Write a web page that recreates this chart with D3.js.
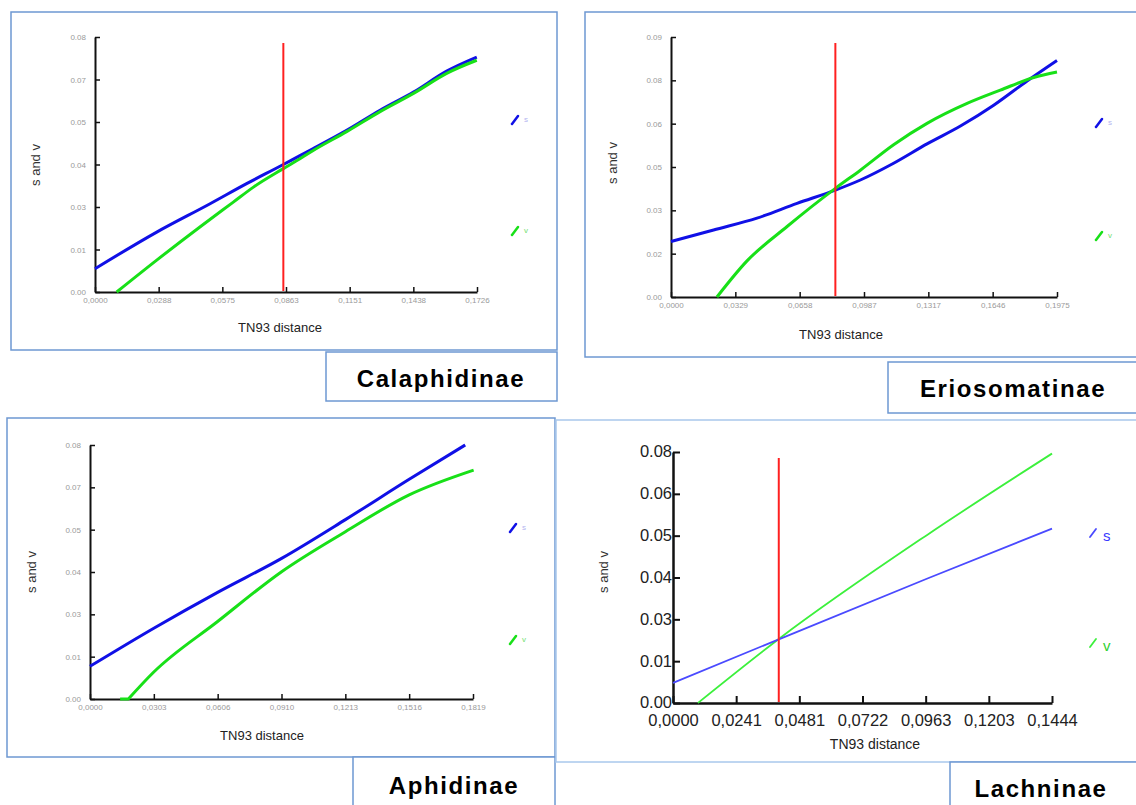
<!DOCTYPE html>
<html><head><meta charset="utf-8">
<script src="https://cdn.jsdelivr.net/npm/d3@7"></script>
<style>html,body{margin:0;padding:0;background:#fff;}svg{display:block;}</style>
</head><body>
<svg id="c" width="1136" height="805"></svg>
<script>
// ---------- DATA ----------
const panelNames = ["Calaphidinae", "Eriosomatinae", "Aphidinae", "Lachninae"];

const calaphidinaeXTicks = ["0,0000","0,0288","0,0575","0,0863","0,1151","0,1438","0,1726"];
const calaphidinaeYTicks = ["0.00","0.01","0.03","0.04","0.05","0.07","0.08"];
const calaphidinaeS = [[0,0.0073],[0.0279,0.0188],[0.052,0.0277],[0.0685,0.0340],[0.0851,0.0400],[0.0926,0.0428],[0.0986,0.0450],[0.1137,0.0507],[0.1288,0.0570],[0.1439,0.0627],[0.1589,0.0693],[0.1725,0.0737]];
const calaphidinaeV = [[0.0098,0],[0.0279,0.0100],[0.0474,0.0204],[0.0625,0.0282],[0.0716,0.0329],[0.0851,0.0387],[0.0926,0.0418],[0.0986,0.0444],[0.1137,0.0503],[0.1288,0.0566],[0.1439,0.0623],[0.1589,0.0686],[0.1725,0.0727]];
const calaphidinaeRed = 0.0851;

const eriosomatinaeXTicks = ["0,0000","0,0329","0,0658","0,0987","0,1317","0,1646","0,1975"];
const eriosomatinaeYTicks = ["0.00","0.02","0.03","0.05","0.06","0.08","0.09"];
const eriosomatinaeS = [[0,0.0192],[0.0218,0.0232],[0.0440,0.0273],[0.0645,0.0324],[0.0841,0.0370],[0.0969,0.0405],[0.1139,0.0463],[0.1310,0.0530],[0.1481,0.0592],[0.1651,0.0664],[0.1822,0.0748],[0.1975,0.0819]];
const eriosomatinaeV = [[0.0235,0],[0.0389,0.0125],[0.0594,0.0244],[0.0841,0.0376],[0.0969,0.0439],[0.1139,0.0527],[0.1310,0.0601],[0.1515,0.0670],[0.1685,0.0716],[0.1856,0.0760],[0.1975,0.0779]];
const eriosomatinaeRed = 0.0841;

const aphidinaeXTicks = ["0,0000","0,0303","0,0606","0,0910","0,1213","0,1516","0,1819"];
const aphidinaeYTicks = ["0.00","0.01","0.03","0.04","0.05","0.07","0.08"];
const aphidinaeS = [[0,0.0103],[0.0303,0.0223],[0.0606,0.0336],[0.0910,0.0443],[0.1213,0.0565],[0.1516,0.0692],[0.1782,0.0800]];
const aphidinaeV = [[0.0143,0],[0.0182,0],[0.0303,0.0085],[0.0606,0.0244],[0.0910,0.0401],[0.1213,0.0527],[0.1516,0.0643],[0.1822,0.0721]];

const lachninaeXTicks = ["0,0000","0,0241","0,0481","0,0722","0,0963","0,1203","0,1444"];
const lachninaeYTicks = ["0.00","0.01","0.03","0.04","0.05","0.06","0.08"];
const lachninaeS = [[0,0.0064],[0.0403,0.0203],[0.0967,0.0396],[0.1444,0.0556]];
const lachninaeV = [[0.0095,0],[0.0403,0.0204],[0.0967,0.0535],[0.1444,0.0795]];
const lachninaeRed = 0.0403;

const seriesNames = ["s","v"];

// ---------- LAYOUT ----------
const panels = [
  {name:panelNames[0], box:[11,12,557,350], lab:[326,352,557,401], title:[441,387],
   px:[95,477], py:[292,37], xMax:0.1726, yMax:0.08, xT:calaphidinaeXTicks, yT:calaphidinaeYTicks,
   s:calaphidinaeS, v:calaphidinaeV, red:calaphidinaeRed, redTop:43,
   xl:[280,332], yl:[40,165], leg:[515,120,231], big:false},
  {name:panelNames[1], box:[585,12,1140,357], lab:[888,362,1140,413], title:[1013,397],
   px:[671,1057], py:[297,37], xMax:0.1975, yMax:0.09, xT:eriosomatinaeXTicks, yT:eriosomatinaeYTicks,
   s:eriosomatinaeS, v:eriosomatinaeV, red:eriosomatinaeRed, redTop:43,
   xl:[841,339], yl:[617,163], leg:[1099,123,236], big:false},
  {name:panelNames[2], box:[7,418,555,757], lab:[353,757,555,808], title:[454,794],
   px:[90,473], py:[699,445], xMax:0.1819, yMax:0.08, xT:aphidinaeXTicks, yT:aphidinaeYTicks,
   s:aphidinaeS, v:aphidinaeV, red:null,
   xl:[262,740], yl:[36,572], leg:[513,528,640], big:false},
  {name:panelNames[3], box:[556,420,1140,762], lab:[950,762,1140,808], title:[1041,797],
   px:[673,1052], py:[703,452], xMax:0.1444, yMax:0.08, xT:lachninaeXTicks, yT:lachninaeYTicks,
   s:lachninaeS, v:lachninaeV, red:lachninaeRed, redTop:458,
   xl:[875,749], yl:[608,572], leg:[1093,533,643], big:true}
];

const svg = d3.select("#c");
const FONT = "'Liberation Sans', Arial, sans-serif";
const borderCol = "#6e98d2";

panels.forEach(p => {
  const g = svg.append("g");
  g.append("rect").attr("x",p.box[0]).attr("y",p.box[1])
    .attr("width",p.box[2]-p.box[0]).attr("height",p.box[3]-p.box[1])
    .attr("fill","none").attr("stroke",p.big? "#a9c8ec" : borderCol).attr("stroke-width",1.5);
  g.append("rect").attr("x",p.lab[0]).attr("y",p.lab[1])
    .attr("width",p.lab[2]-p.lab[0]).attr("height",p.lab[3]-p.lab[1])
    .attr("fill","#fff").attr("stroke",borderCol).attr("stroke-width",1.5);
  g.append("text").attr("x",p.title[0]).attr("y",p.title[1])
    .attr("text-anchor","middle").attr("font-family",FONT).attr("font-weight","bold")
    .attr("font-size",24).attr("letter-spacing","1.6px").attr("fill","#000").text(p.name);

  const x = d3.scaleLinear().domain([0,p.xMax]).range(p.px);
  const y = d3.scaleLinear().domain([0,p.yMax]).range(p.py);
  const xv = d3.range(7).map(i => p.xMax*i/6);
  const yv = d3.range(7).map(i => p.yMax*i/6);

  const tickFont = p.big ? 16.5 : 8;
  const tickCol = p.big ? "#222" : "#9a9a9a";

  const xa = g.append("g").attr("transform",`translate(0,${p.py[0]})`)
    .call(d3.axisBottom(x).tickValues(xv).tickFormat((d,i)=>p.xT[i])
      .tickSizeInner(p.big?-7:-5).tickSizeOuter(0).tickPadding(p.big?11:5));
  const ya = g.append("g").attr("transform",`translate(${p.px[0]},0)`)
    .call(d3.axisLeft(y).tickValues(yv).tickFormat((d,i)=>p.yT[i])
      .tickSizeInner(p.big?-7:-5).tickSizeOuter(0).tickPadding(p.big?1:9));
  [xa,ya].forEach(a => {
    a.select(".domain").attr("stroke","#111").attr("stroke-width",p.big?2.5:2);
    a.selectAll(".tick line").attr("stroke","#111").attr("stroke-width",p.big?2:1.5);
    a.selectAll(".tick text").attr("font-family",FONT).attr("font-size",tickFont).attr("fill",tickCol);
  });
  if (p.big) ya.selectAll(".tick text").attr("dy","0.3em");

  g.append("text").attr("x",p.xl[0]).attr("y",p.xl[1]).attr("text-anchor","middle")
    .attr("font-family",FONT).attr("font-size",p.big?14:13).attr("fill","#222").text("TN93 distance");
  g.append("text").attr("transform",`translate(${p.yl[0]},${p.yl[1]}) rotate(-90)`)
    .attr("text-anchor","middle").attr("font-family",FONT).attr("font-size",13).attr("fill","#333").text("s and v");

  const smooth = d3.line().curve(d3.curveMonotoneX).x(d=>x(d[0])).y(d=>y(d[1]));
  const straight = d3.line().x(d=>x(d[0])).y(d=>y(d[1]));
  const sCol = p.big ? "#4a4aff" : "#1010e6";
  const vCol = p.big ? "#3cf03c" : "#18e018";
  const lw = p.big ? 1.8 : 3;
  const order = p.big ? [[p.v,vCol],[p.s,sCol]] : [[p.s,sCol],[p.v,vCol]];
  order.forEach(([data,col]) => {
    const flatStart = data.length > 2 && data[0][1] === data[1][1];
    const path = flatStart
      ? straight(data.slice(0,2)) + smooth(data.slice(1)).replace(/^M/, "L")
      : smooth(data);
    g.append("path").attr("d",path).attr("fill","none")
      .attr("stroke",col).attr("stroke-width",lw).attr("stroke-linejoin","round");
  });
  if (p.red !== null) {
    g.append("line").attr("x1",x(p.red)).attr("x2",x(p.red)).attr("y1",p.redTop).attr("y2",p.py[0]-1)
      .attr("stroke","#ff2020").attr("stroke-width",2);
  }
  const legCols = [sCol, vCol];
  const legTxt = p.big ? ["#3a3aff","#30d030"] : ["#b4b4f0","#70e070"];
  [p.leg[1], p.leg[2]].forEach((ly,i) => {
    g.append("line").attr("x1",p.leg[0]-3).attr("y1",ly+4).attr("x2",p.leg[0]+3).attr("y2",ly-4)
      .attr("stroke",legCols[i]).attr("stroke-width",p.big?1.8:2.5).attr("stroke-linecap","round");
    g.append("text").attr("x",p.leg[0]+(p.big?10:9)).attr("y",ly+(p.big?8:2))
      .attr("font-family",FONT).attr("font-size",p.big?15:8).attr("fill",legTxt[i]).text(seriesNames[i]);
  });
});
</script>
</body></html>
